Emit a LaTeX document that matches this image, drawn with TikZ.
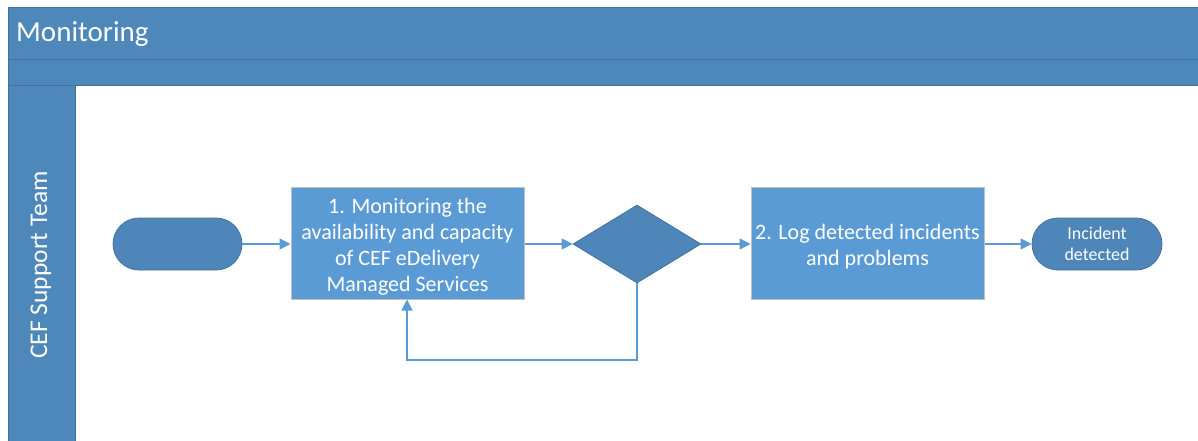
\documentclass[tikz,border=0pt]{standalone}
\usepackage{fontspec}
\setmainfont{Carlito}
\usetikzlibrary{shapes.geometric,shapes.misc,arrows.meta}
\definecolor{hdr}{HTML}{4E88BB}
\definecolor{hdrline}{HTML}{41719C}
\definecolor{proc}{HTML}{5B9BD5}
\definecolor{procline}{HTML}{BFBFBF}
\definecolor{term}{HTML}{4E86B9}
\definecolor{arr}{HTML}{5B9BD5}
\tikzset{
  band/.style={fill=hdr,draw=hdrline,line width=0.8pt},
  process/.style={rectangle,fill=proc,draw=procline,line width=1pt,inner sep=0pt},
  proctext/.style={text=white,align=center,font=\fontsize{22}{26}\selectfont,inner sep=0pt},
  terminal/.style={rounded rectangle,fill=term,draw=hdrline,line width=0.8pt,text=white,align=center,font=\fontsize{18}{21}\selectfont,inner sep=0pt},
  decision/.style={diamond,fill=term,draw=hdrline,line width=0.8pt,inner sep=0pt,aspect=1.64},
  flow/.style={draw=arr,line width=1.3pt,-{Triangle[length=11pt,width=11pt]}}
}
\begin{document}
\begin{tikzpicture}[x=1pt,y=-1pt]
\useasboundingbox (0,0) rectangle (1198,441);
% header bands
\draw[band] (1200,7) -- (8,7) -- (8,59) -- (1200,59);
\draw[band] (1200,59) -- (8,59) -- (8,85) -- (1200,85);
\node[anchor=west,text=white,font=\fontsize{29}{33}\selectfont,inner sep=0pt] (title) at (16,34) {Monitoring};
% lane
\draw[band] (8,445) -- (8,85) -- (75,85) -- (75,445);
\node[rotate=90,text=white,font=\fontsize{25.5}{30}\selectfont,inner sep=0pt] (lane) at (41,265) {CEF Support Team};
% nodes
\node[terminal,minimum width=129pt,minimum height=52pt] (start) at (177.5,244) {};
\node[process,minimum width=233pt,minimum height=112pt] (p1) at (407.5,243) {};
\node[proctext] (p1t) at (407.5,247) {1. Monitoring the\\availability and capacity\\of CEF eDelivery\\Managed Services};
\node[decision,minimum width=128pt,minimum height=78pt] (dec) at (637,244) {};
\node[process,minimum width=233pt,minimum height=112pt] (p2) at (867.5,243) {};
\node[proctext] (p2t) at (867.5,247) {2. Log detected incidents\\and problems};
\node[terminal,minimum width=130pt,minimum height=52pt] (end) at (1097,244) {Incident\\detected};
\coordinate (c1) at (637,360);
\coordinate (c2) at (407,360);
% connectors
\draw[flow] (start.east) -- (start.east -| p1.west);
\draw[flow] (p1.east |- dec.west) -- (dec.west);
\draw[flow] (dec.east) -- (dec.east -| p2.west);
\draw[flow] (p2.east |- end.west) -- (end.west);
\draw[flow] (dec.south) -- (c1) -- (c2) -- (c2 |- p1.south);
\end{tikzpicture}
\end{document}
